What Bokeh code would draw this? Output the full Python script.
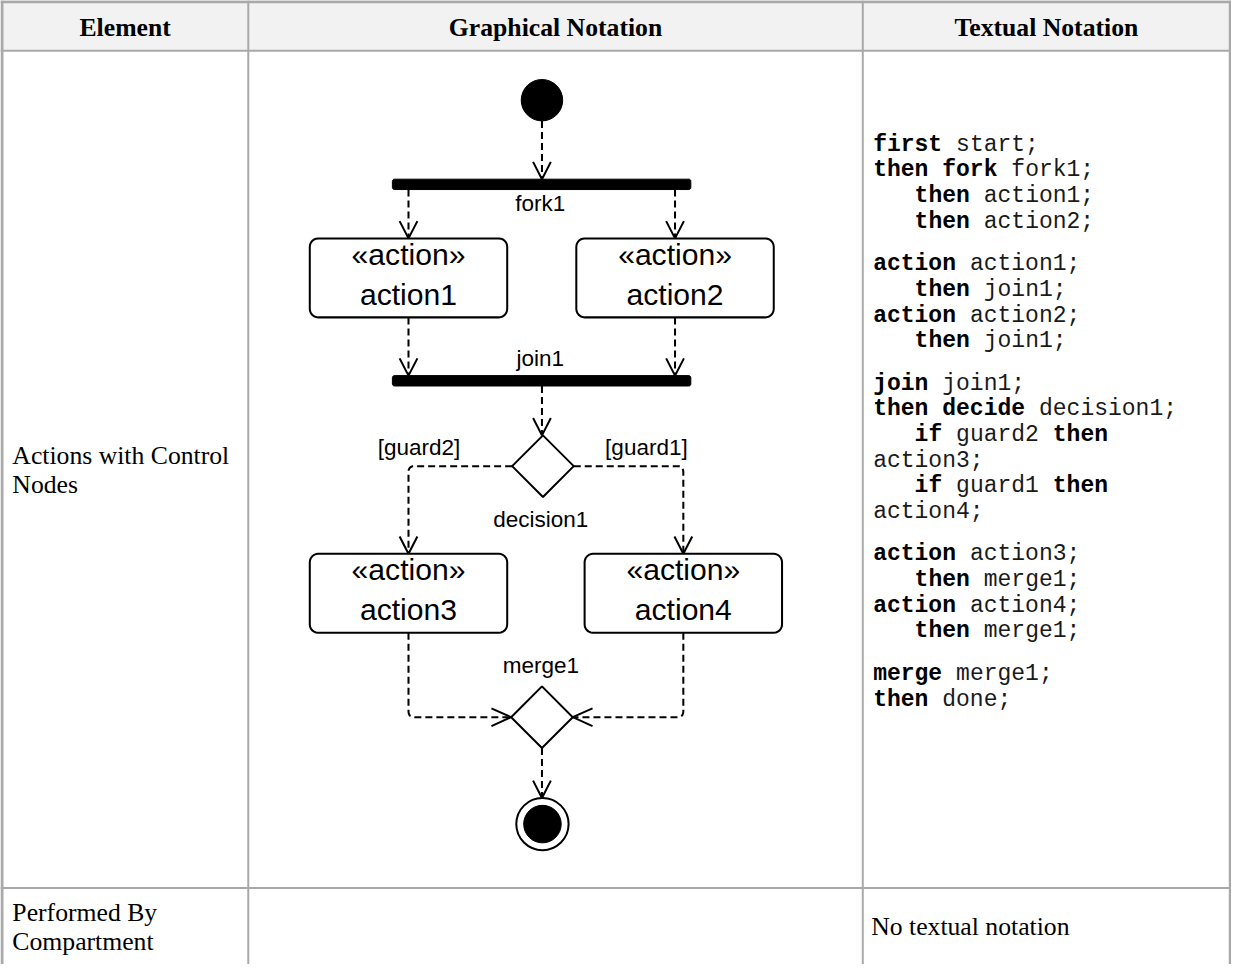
import re
from bokeh.plotting import figure
from bokeh.models import Range1d
from bokeh.embed import file_html
from bokeh.resources import INLINE
from bokeh.core.properties import value

# ---------------- table content ----------------
HEADERS = ["Element", "Graphical Notation", "Textual Notation"]
ROW1_ELEMENT = ["Actions with Control", "Nodes"]
ROW2_ELEMENT = ["Performed By", "Compartment"]
ROW2_TEXTUAL = ["No textual notation"]

KEYWORDS = {"first", "then", "fork", "action", "join", "decide", "if", "merge"}
CODE_GROUPS = [
    ["first start;", "then fork fork1;", "   then action1;", "   then action2;"],
    ["action action1;", "   then join1;", "action action2;", "   then join1;"],
    ["join join1;", "then decide decision1;", "   if guard2 then", "action3;",
     "   if guard1 then", "action4;"],
    ["action action3;", "   then merge1;", "action action4;", "   then merge1;"],
    ["merge merge1;", "then done;"],
]

# ---------------- diagram content ----------------
ACTION_NAMES = ["action1", "action2", "action3", "action4"]
STEREOTYPE = "«action»"
BAR_NAMES = ["fork1", "join1"]
DIAMOND_NAMES = ["decision1", "merge1"]
GUARDS = ["[guard2]", "[guard1]"]

# layout of the diagram (reference pixel space, y downwards)
ACTION_CX = [413.3, 683.3, 413.3, 691.7]
ACTION_TOP = [241.0, 241.0, 560.5, 560.5]
ACTION_W, ACTION_H = 200.0, 80.0
BAR_X0, BAR_X1 = 397.0, 699.3
BAR_TOP = [181.0, 380.0]
BAR_H = 10.5
DIAMOND_CX = [549.5, 548.5]
DIAMOND_CY = [471.7, 726.0]
DIAMOND_R = 31.2
START = (548.5, 101.0, 21.0)
FINAL = (549.0, 834.3, 26.5, 19.0)

# ---------------- figure ----------------
W_REF, H_REF = 1247.0, 980.0
FIG_W, FIG_H = 1231, 964
S = FIG_W / W_REF
p = figure(width=FIG_W, height=FIG_H, x_range=Range1d(0, W_REF),
           y_range=Range1d(FIG_H / S, 0), output_backend="svg",
           toolbar_location=None, min_border=0,
           x_axis_location=None, y_axis_location=None)
p.grid.visible = False
p.outline_line_color = None
p.background_fill_color = "white"
p.border_fill_color = "white"

SERIF = value("Liberation Serif")
SANS = value("Liberation Sans")
MONO = value("Liberation Mono")
BASE_SHIFT = 0.38  # renderer places text ~0.38em lower than the requested baseline


def px(v):
    return f"{v * S:.1f}px"


def bl(ys, fs):
    return [v - BASE_SHIFT * fs for v in ys]


# ---------------- table frame ----------------
COL_X = [1.5, 251.0, 873.5, 1245.5]
HEAD_BOTTOM = 51.0
ROW_SEP = 899.0
p.quad(left=[0], right=[W_REF], top=[0], bottom=[HEAD_BOTTOM], fill_color="#f2f2f2", line_color=None)
GRID = "#a9a9a9"
p.segment(x0=[0, 0, 0], x1=[W_REF, W_REF, W_REF], y0=[1.2, HEAD_BOTTOM, ROW_SEP],
          y1=[1.2, HEAD_BOTTOM, ROW_SEP], line_color=GRID, line_width=[3, 2, 2])
p.segment(x0=COL_X, x1=COL_X, y0=[0] * 4, y1=[H_REF] * 4, line_color=GRID,
          line_width=[3, 2, 2, 2.5])

SERIF_FS = 26.0
HEAD_CX = [(COL_X[i] + COL_X[i + 1]) / 2 for i in range(3)]
p.text(x=HEAD_CX, y=bl([37] * 3, SERIF_FS), text=HEADERS, text_font=SERIF, text_font_style="bold",
       text_font_size=px(SERIF_FS), text_align="center", text_baseline="alphabetic", text_color="black")

p.text(x=[12] * 2, y=bl([471, 500.5], SERIF_FS), text=ROW1_ELEMENT, text_font=SERIF,
       text_font_size=px(SERIF_FS), text_baseline="alphabetic", text_color="black")
p.text(x=[12] * 2, y=bl([934, 963.5], SERIF_FS), text=ROW2_ELEMENT, text_font=SERIF,
       text_font_size=px(SERIF_FS), text_baseline="alphabetic", text_color="black")
p.text(x=[882], y=bl([948], SERIF_FS), text=ROW2_TEXTUAL, text_font=SERIF,
       text_font_size=px(SERIF_FS), text_baseline="alphabetic", text_color="black")

# textual notation (code)
MONO_FS = 23.3
CODE_X0, CODE_Y0 = 884.0, 155.0
CHAR_W, LINE_H, GROUP_GAP = 14.0, 26.0, 17.0
bx, by, bt, rx, ry, rt = [], [], [], [], [], []
y = CODE_Y0
for gi, group in enumerate(CODE_GROUPS):
    if gi > 0:
        y += GROUP_GAP
    for line in group:
        for m in re.finditer(r"\S+", line):
            tok = m.group()
            xx = CODE_X0 + m.start() * CHAR_W
            if tok in KEYWORDS:
                bx.append(xx); by.append(y); bt.append(tok)
            else:
                rx.append(xx); ry.append(y); rt.append(tok)
        y += LINE_H
p.text(x=bx, y=bl(by, MONO_FS), text=bt, text_font=MONO, text_font_style="bold",
       text_font_size=px(MONO_FS), text_baseline="alphabetic", text_color="black")
p.text(x=rx, y=bl(ry, MONO_FS), text=rt, text_font=MONO, text_font_size=px(MONO_FS),
       text_baseline="alphabetic", text_color="#1a1a1a")

# ---------------- diagram helpers ----------------
LW = 2 * S + 0.05
DASH = "7 4"


def rrect(x0, y0, x1, y1, r, n=6):
    import math
    xs, ys = [], []
    corners = [(x1 - r, y0 + r, -90), (x1 - r, y1 - r, 0), (x0 + r, y1 - r, 90), (x0 + r, y0 + r, 180)]
    for cx, cy, a0 in corners:
        for k in range(n + 1):
            a = math.radians(a0 + 90 * k / n)
            xs.append(cx + r * math.cos(a)); ys.append(cy + r * math.sin(a))
    return xs, ys


def rounded_path(pts, r=6, n=6):
    out = [pts[0]]
    for i in range(1, len(pts) - 1):
        (ax, ay), (px_, py_), (cx, cy) = pts[i - 1], pts[i], pts[i + 1]
        da = ((ax - px_) ** 2 + (ay - py_) ** 2) ** 0.5
        dc = ((cx - px_) ** 2 + (cy - py_) ** 2) ** 0.5
        p1 = (px_ + (ax - px_) * r / da, py_ + (ay - py_) * r / da)
        p2 = (px_ + (cx - px_) * r / dc, py_ + (cy - py_) * r / dc)
        for k in range(n + 1):
            t = k / n
            out.append(((1 - t) ** 2 * p1[0] + 2 * (1 - t) * t * px_ + t * t * p2[0],
                        (1 - t) ** 2 * p1[1] + 2 * (1 - t) * t * py_ + t * t * p2[1]))
    out.append(pts[-1])
    return [q[0] for q in out], [q[1] for q in out]


edges_x, edges_y, heads_x, heads_y = [], [], [], []


def edge(pts, back=17.5, half=9.0):
    xs, ys = rounded_path(pts)
    edges_x.append(xs); edges_y.append(ys)
    (ax, ay), (tx, ty) = pts[-2], pts[-1]
    d = ((tx - ax) ** 2 + (ty - ay) ** 2) ** 0.5
    ux, uy = (tx - ax) / d, (ty - ay) / d
    heads_x.append([tx - ux * back - uy * half, tx, tx - ux * back + uy * half])
    heads_y.append([ty - uy * back + ux * half, ty, ty - uy * back - ux * half])


a_bot = [t + ACTION_H for t in ACTION_TOP]
sx, sy, sr = START
fx, fy, fro, fri = FINAL
dl = [cx - DIAMOND_R for cx in DIAMOND_CX]
dr = [cx + DIAMOND_R for cx in DIAMOND_CX]

edge([(sx, sy + sr), (sx, BAR_TOP[0])])
edge([(ACTION_CX[0], BAR_TOP[0] + BAR_H), (ACTION_CX[0], ACTION_TOP[0])])
edge([(ACTION_CX[1], BAR_TOP[0] + BAR_H), (ACTION_CX[1], ACTION_TOP[1])])
edge([(ACTION_CX[0], a_bot[0]), (ACTION_CX[0], BAR_TOP[1])])
edge([(ACTION_CX[1], a_bot[1]), (ACTION_CX[1], BAR_TOP[1])])
edge([(sx, BAR_TOP[1] + BAR_H), (sx, DIAMOND_CY[0] - DIAMOND_R)])
edge([(dl[0], DIAMOND_CY[0]), (ACTION_CX[2], DIAMOND_CY[0]), (ACTION_CX[2], ACTION_TOP[2])])
edge([(dr[0], DIAMOND_CY[0]), (ACTION_CX[3], DIAMOND_CY[0]), (ACTION_CX[3], ACTION_TOP[3])])
edge([(ACTION_CX[2], a_bot[2]), (ACTION_CX[2], DIAMOND_CY[1]), (dl[1], DIAMOND_CY[1])], back=20, half=9)
edge([(ACTION_CX[3], a_bot[3]), (ACTION_CX[3], DIAMOND_CY[1]), (dr[1], DIAMOND_CY[1])], back=20, half=9)
edge([(DIAMOND_CX[1], DIAMOND_CY[1] + DIAMOND_R), (DIAMOND_CX[1], fy - fro)])

p.multi_line(xs=edges_x, ys=edges_y, line_color="black", line_width=LW, line_dash=DASH)
p.multi_line(xs=heads_x, ys=heads_y, line_color="black", line_width=LW)

# bars
bars = [rrect(BAR_X0, t, BAR_X1, t + BAR_H, 2) for t in BAR_TOP]
p.patches(xs=[b[0] for b in bars], ys=[b[1] for b in bars], fill_color="black", line_color="black", line_width=1)

# action boxes
ACT_FS = 30.5
boxes = [rrect(cx - ACTION_W / 2, t, cx + ACTION_W / 2, t + ACTION_H, 8.5)
         for cx, t in zip(ACTION_CX, ACTION_TOP)]
p.patches(xs=[b[0] for b in boxes], ys=[b[1] for b in boxes], fill_color="white",
          line_color="black", line_width=LW)
p.text(x=ACTION_CX, y=bl([t + 27.5 for t in ACTION_TOP], ACT_FS), text=[STEREOTYPE] * 4, text_font=SANS,
       text_font_size=px(ACT_FS), text_align="center", text_baseline="alphabetic", text_color="black")
p.text(x=ACTION_CX, y=bl([t + 68.5 for t in ACTION_TOP], ACT_FS), text=ACTION_NAMES, text_font=SANS,
       text_font_size=px(ACT_FS), text_align="center", text_baseline="alphabetic", text_color="black")

# diamonds
dxs = [[cx, cx + DIAMOND_R, cx, cx - DIAMOND_R] for cx in DIAMOND_CX]
dys = [[cy - DIAMOND_R, cy, cy + DIAMOND_R, cy] for cy in DIAMOND_CY]
p.patches(xs=dxs, ys=dys, fill_color="white", line_color="black", line_width=LW)

# start and final nodes
p.circle(x=[sx], y=[sy], radius=sr, fill_color="black", line_color="black")
p.circle(x=[fx], y=[fy], radius=fro, fill_color="white", line_color="black", line_width=LW)
p.circle(x=[fx], y=[fy], radius=fri, fill_color="black", line_color="black")

# node labels
LABEL_FS = 22.8
p.text(x=[546.7, 546.7], y=bl([214, 371], LABEL_FS), text=BAR_NAMES, text_font=SANS,
       text_font_size=px(LABEL_FS), text_align="center", text_baseline="alphabetic", text_color="black")
p.text(x=[547.3, 547.3], y=bl([534, 682], LABEL_FS), text=DIAMOND_NAMES, text_font=SANS,
       text_font_size=px(LABEL_FS), text_align="center", text_baseline="alphabetic", text_color="black")
p.text(x=[424, 654.3], y=bl([461, 461], LABEL_FS), text=GUARDS, text_font=SANS,
       text_font_size=px(LABEL_FS), text_align="center", text_baseline="alphabetic", text_color="black")

open("out.html", "w").write(file_html(p, INLINE))
